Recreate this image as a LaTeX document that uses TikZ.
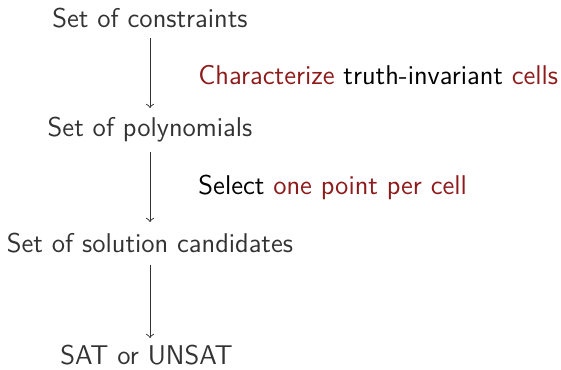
\documentclass[tikz,border=0pt]{standalone}
\usepackage{xcolor}
\definecolor{txt}{HTML}{333333}
\definecolor{hl}{HTML}{8E1B1B}
\begin{document}
\begin{tikzpicture}[x=0.4386pt,y=-0.4386pt,
  lbl/.style={font=\sffamily\fontsize{11.9}{14}\selectfont, text=txt, inner sep=0pt, anchor=center},
  side/.style={font=\sffamily\fontsize{11.9}{14}\selectfont, text=black, inner sep=0pt, anchor=west},
  arr/.style={->, draw=txt, line width=0.4pt}]
\useasboundingbox (0,0) rectangle (561,369);
\node[lbl] (a) at (150,18) {Set of constraints};
\node[lbl] (b) at (150,130) {Set of polynomials};
\node[lbl] (c) at (150,243) {Set of solution candidates};
\node[lbl] (d) at (146.5,355) {SAT or UNSAT};
\coordinate (a1) at (150,38);
\coordinate (a2) at (150,108);
\coordinate (b1) at (150,152);
\coordinate (b2) at (150,222);
\coordinate (c1) at (150,265);
\coordinate (c2) at (150,338);
\draw[arr] (a1) -- (a2);
\draw[arr] (b1) -- (b2);
\draw[arr] (c1) -- (c2);
\node[side] (t1) at (198,75) {\textcolor{hl}{Characterize} truth-invariant \textcolor{hl}{cells}};
\node[side] (t2) at (198,187) {Select \textcolor{hl}{one point per cell}};
\end{tikzpicture}
\end{document}
